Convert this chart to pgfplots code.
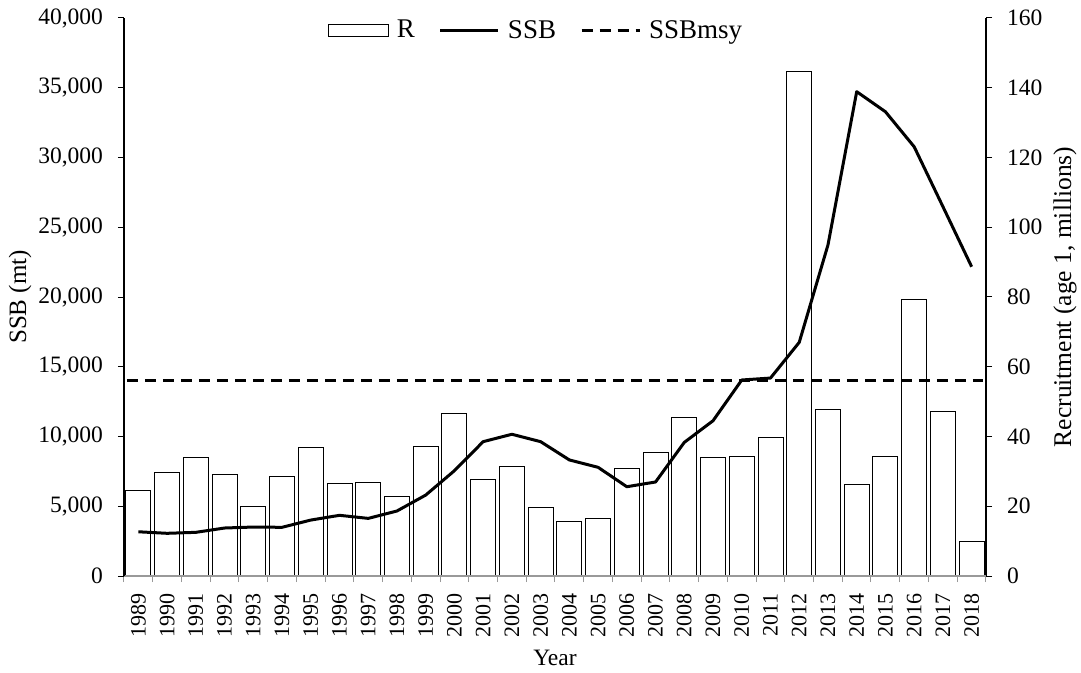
\documentclass[border=0pt]{standalone}
\usepackage{fontspec}
\setmainfont{Liberation Serif}
\usepackage{pgfplots}
\pgfplotsset{compat=1.18}
\begin{document}
\fontsize{23.5}{27}\selectfont
\begin{tikzpicture}
\pgfplotsset{
  every axis/.append style={
    width=862pt, height=558pt, scale only axis,
    xmin=1988.5, xmax=2018.5,
    font=\fontsize{23.5}{27}\selectfont,
    /pgf/number format/assume math mode=true,
    tick align=outside,
  },
}
% Recruitment bars (right axis)
\begin{axis}[
  ybar, bar width=25pt,
  ymin=0, ymax=160, ytick={0,20,...,160},
  axis y line*=right, axis x line=none,
  y axis line style={-, line width=1.8pt},
  ytick style={black, line width=1pt},
  major tick length=6pt,
  yticklabel style={xshift=7pt},
  ylabel={Recruitment (age 1, millions)},
  ylabel style={at={(axis description cs:1.0917,0.5)}, anchor=center, font=\fontsize{25.5}{28}\selectfont},
]
\addplot[draw=black, fill=white, line width=1pt] coordinates {
(1989,24.5) (1990,29.8) (1991,34.0) (1992,29.0) (1993,20.0) (1994,28.6)
(1995,36.9) (1996,26.5) (1997,26.8) (1998,22.9) (1999,37.2) (2000,46.7)
(2001,27.6) (2002,31.5) (2003,19.7) (2004,15.7) (2005,16.6) (2006,30.8)
(2007,35.4) (2008,45.5) (2009,34.0) (2010,34.4) (2011,39.6) (2012,144.8)
(2013,47.8) (2014,26.2) (2015,34.2) (2016,79.4) (2017,47.2) (2018,9.9)
};
\end{axis}
% SSB (left axis)
\begin{axis}[
  ymin=0, ymax=40000, ytick={0,5000,...,40000},
  scaled y ticks=false,
  yticklabel style={xshift=-7pt, /pgf/number format/.cd, fixed, 1000 sep={,}},
  axis y line*=left, axis x line*=bottom,
  y axis line style={-, line width=1.8pt},
  x axis line style={-, gray!80, line width=1.2pt},
  ytick style={black, line width=1pt},
  major tick length=6pt,
  xtick={1989,...,2018},
  xticklabel style={yshift=-3pt, rotate=90, anchor=east, font=\fontsize{22}{24}\selectfont, /pgf/number format/1000 sep={}},
  major x tick style={draw=none},
  minor xtick={1988.5,1989.5,...,2018.5},
  minor x tick style={gray!80, line width=1pt},
  minor tick length=6pt,
  ylabel={SSB (mt)},
  ylabel style={at={(axis description cs:-0.1206,0.5)}, anchor=center, font=\fontsize{25}{28}\selectfont},
  xlabel={Year},
  xlabel style={at={(axis description cs:0.5,-0.147)}, anchor=center, font=\fontsize{23.5}{27}\selectfont},
  legend image code/.code={\draw[#1] (0pt,0pt) -- (58pt,0pt);},
  legend style={at={(0.478,0.977)}, anchor=center, draw=none, fill=none,
    legend columns=-1, font=\fontsize{27}{30}\selectfont,
    /tikz/every even column/.append style={column sep=22pt},
    /tikz/every odd column/.append style={column sep=3pt}},
]
\addlegendimage{legend image code/.code={\draw[black, fill=white, line width=1pt] (0pt,-6pt) rectangle (60pt,6pt);}}
\addlegendentry{\hspace{3pt}R}
\addplot[black, line width=3pt, line join=round] coordinates {
(1989,3170) (1990,3060) (1991,3130) (1992,3440) (1993,3510) (1994,3490)
(1995,4010) (1996,4350) (1997,4130) (1998,4660) (1999,5800) (2000,7550)
(2001,9630) (2002,10160) (2003,9630) (2004,8320) (2005,7790) (2006,6400)
(2007,6740) (2008,9580) (2009,11130) (2010,14050) (2011,14190) (2012,16750)
(2013,23730) (2014,34720) (2015,33280) (2016,30770) (2017,26480) (2018,22170)
};
\addlegendentry{\hspace{3pt}SSB}
\addplot[black, line width=3pt, dash pattern=on 11pt off 7pt] coordinates {
(1988.6,14050) (2018.4,14050)
};
\addlegendentry{\hspace{3pt}SSBmsy}
\end{axis}
\pgfresetboundingbox
\path[use as bounding box] ([shift={(-124pt,-96pt)}]current axis.south west) rectangle ([shift={(95pt,18pt)}]current axis.north east);
\end{tikzpicture}
\end{document}
